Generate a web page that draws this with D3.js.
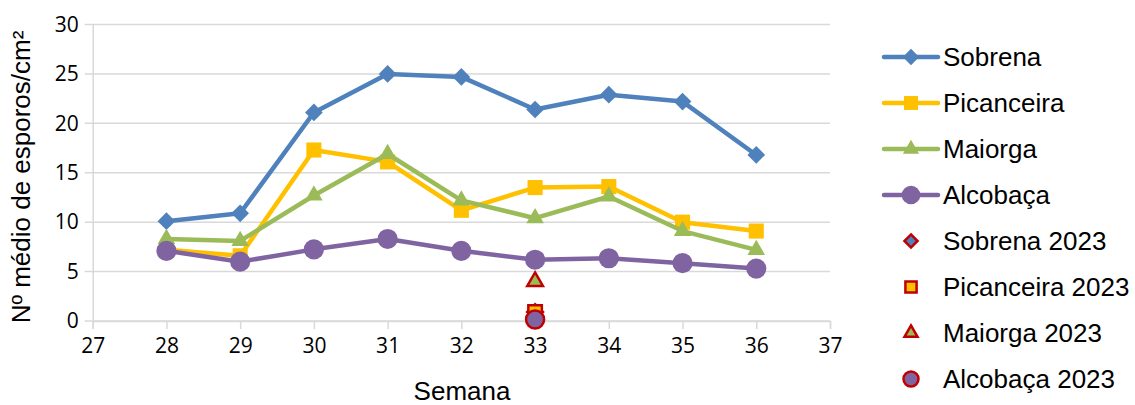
<!DOCTYPE html>
<html>
<head>
<meta charset="utf-8">
<script src="https://d3js.org/d3.v7.min.js"></script>
<style>
  body { margin: 0; background: #fff; }
  .tick text { font-family: "Open Sans", sans-serif; font-size: 21px; fill: #000; }
  .lbl { font-family: "Liberation Sans", Arial, sans-serif; font-size: 26px; fill: #000; }
</style>
</head>
<body>
<script>
var weeks = [28, 29, 30, 31, 32, 33, 34, 35, 36];
var sobrena = [10.1, 10.9, 21.1, 25.0, 24.7, 21.4, 22.9, 22.2, 16.8];
var picanceira = [7.2, 6.6, 17.3, 16.1, 11.2, 13.5, 13.6, 10.0, 9.1];
var maiorga = [8.3, 8.1, 12.7, 16.9, 12.2, 10.4, 12.6, 9.1, 7.2];
var alcobaca = [7.1, 6.0, 7.25, 8.3, 7.1, 6.2, 6.35, 5.85, 5.3];

var week2023 = 33;
var sobrena2023 = 0.9, picanceira2023 = 0.9, maiorga2023 = 4.0, alcobaca2023 = 0.15;

var xTicks = [27, 28, 29, 30, 31, 32, 33, 34, 35, 36, 37];
var yTicks = [0, 5, 10, 15, 20, 25, 30];

var width = 1135, height = 405;
var svg = d3.select('body').append('svg').attr('width', width).attr('height', height);

var x = d3.scaleLinear().domain([27, 37]).range([92.7, 830]);
var y = d3.scaleLinear().domain([0, 30]).range([321, 24.5]);

// gridlines
svg.append('g').selectAll('line').data(yTicks).enter().append('line')
  .attr('x1', x(27) - 8).attr('x2', x(37))
  .attr('y1', d => y(d)).attr('y2', d => y(d))
  .attr('stroke', '#d9d9d9').attr('stroke-width', 1.5);

// axes
var yAxis = svg.append('g').attr('transform', 'translate(' + x(27) + ',0)')
  .call(d3.axisLeft(y).tickValues(yTicks).tickSize(0).tickPadding(14));
yAxis.select('.domain').attr('stroke', '#d9d9d9').attr('stroke-width', 1.5);

var xAxis = svg.append('g').attr('transform', 'translate(0,' + y(0) + ')')
  .call(d3.axisBottom(x).tickValues(xTicks).tickSize(8).tickPadding(9));
xAxis.select('.domain').attr('stroke', '#d9d9d9').attr('stroke-width', 1.5);
xAxis.selectAll('.tick line').attr('stroke', '#d9d9d9').attr('stroke-width', 1.5);

var series = [
  {name: 'Sobrena', vals: sobrena, color: '#4f81bd', shape: d3.symbolDiamond2, size: 200, v23: sobrena2023},
  {name: 'Picanceira', vals: picanceira, color: '#ffc000', shape: d3.symbolSquare2, size: 290, v23: picanceira2023},
  {name: 'Maiorga', vals: maiorga, color: '#9bbb59', shape: d3.symbolTriangle2, size: 220, v23: maiorga2023},
  {name: 'Alcobaça', vals: alcobaca, color: '#8064a2', shape: d3.symbolCircle, size: 320, v23: alcobaca2023}
];

var line = d3.line().x((d, i) => x(weeks[i])).y(d => y(d));

series.forEach(function(s) {
  var g = svg.append('g');
  g.append('path').datum(s.vals).attr('d', line)
    .attr('fill', 'none').attr('stroke', s.color).attr('stroke-width', 4.5)
    .attr('stroke-linejoin', 'round').attr('stroke-linecap', 'round');
  g.selectAll('path.m').data(s.vals).enter().append('path').attr('class', 'm')
    .attr('d', d3.symbol().type(s.shape).size(s.size))
    .attr('transform', (d, i) => 'translate(' + x(weeks[i]) + ',' + y(d) + ')')
    .attr('fill', s.color);
});

// 2023 points
series.forEach(function(s) {
  svg.append('path')
    .attr('d', d3.symbol().type(s.shape).size(s.size * 0.8))
    .attr('transform', 'translate(' + x(week2023) + ',' + y(s.v23) + ')')
    .attr('fill', s.color).attr('stroke', '#c00000').attr('stroke-width', 2.5);
});

// legend
var lg = svg.append('g');
var rowY = d => 57 + d * 46;
series.forEach(function(s, i) {
  lg.append('line').attr('x1', 884).attr('x2', 938).attr('y1', rowY(i)).attr('y2', rowY(i))
    .attr('stroke', s.color).attr('stroke-width', 4.5).attr('stroke-linecap', 'round');
  lg.append('path').attr('d', d3.symbol().type(s.shape).size(s.size * 0.85))
    .attr('transform', 'translate(911,' + rowY(i) + ')').attr('fill', s.color);
  lg.append('text').attr('class', 'lbl').attr('x', 943).attr('y', rowY(i)).attr('dy', '0.35em').text(s.name);
});
series.forEach(function(s, i) {
  var r = i + 4;
  lg.append('path').attr('d', d3.symbol().type(s.shape).size(s.size * 0.55))
    .attr('transform', 'translate(911,' + rowY(r) + ')')
    .attr('fill', s.color).attr('stroke', '#c00000').attr('stroke-width', 2.5);
  lg.append('text').attr('class', 'lbl').attr('x', 943).attr('y', rowY(r)).attr('dy', '0.35em').text(s.name + ' 2023');
});

// axis titles
svg.append('text').attr('class', 'lbl').attr('text-anchor', 'middle')
  .attr('x', 462).attr('y', 391).attr('dy', '0.35em').text('Semana');
svg.append('text').attr('class', 'lbl').attr('text-anchor', 'middle')
  .attr('transform', 'translate(21,177) rotate(-90)').attr('dy', '0.35em')
  .text('Nº médio de esporos/cm²');
</script>
</body>
</html>
